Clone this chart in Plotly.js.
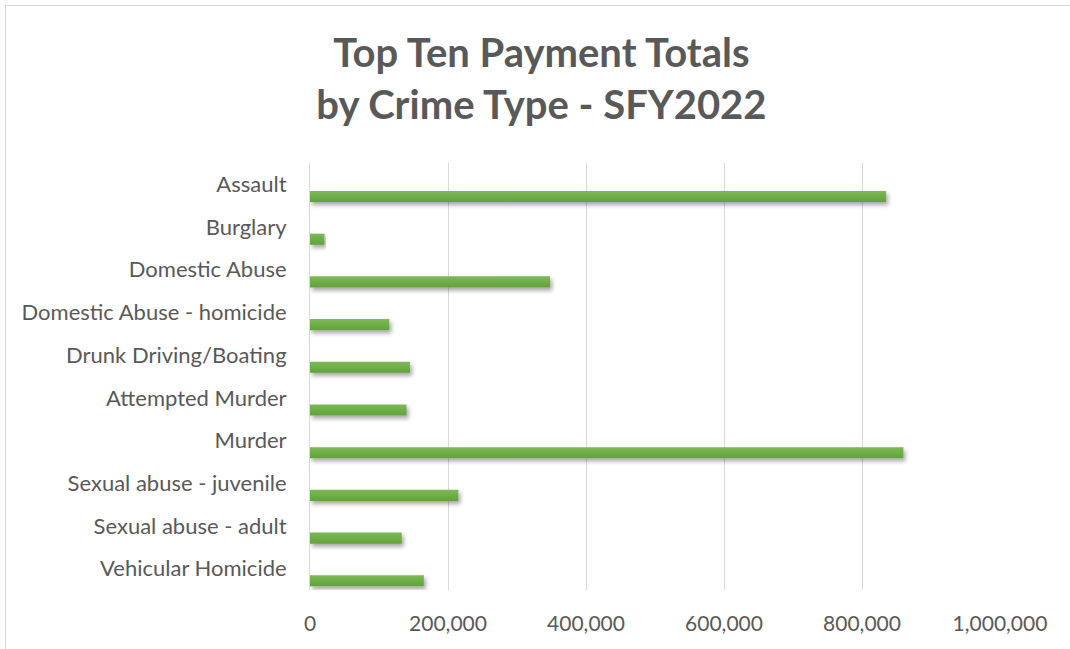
<!DOCTYPE html>
<html>
<head>
<meta charset="utf-8">
<script src="https://cdn.plot.ly/plotly-3.0.1.min.js"></script>
<style>
  html, body { margin: 0; padding: 0; background: #fff; overflow: hidden; }
  #wrap { position: relative; width: 1070px; height: 649px; overflow: hidden; }
  #chart { width: 1070px; height: 649px; }
  #frame { position: absolute; left: 5px; top: 5px; width: 1100px; height: 700px; border: 1px solid #d9d9d9; pointer-events: none; box-sizing: border-box; }
</style>
</head>
<body>
<div id="wrap">
  <div id="chart"></div>
  <div id="frame"></div>
</div>
<script>
const chartTitle = "Top Ten Payment Totals<br>by Crime Type - SFY2022";
const categories = [
  "Assault",
  "Burglary",
  "Domestic Abuse",
  "Domestic Abuse - homicide",
  "Drunk Driving/Boating",
  "Attempted Murder",
  "Murder",
  "Sexual abuse - juvenile",
  "Sexual abuse - adult",
  "Vehicular Homicide"
];
const paymentTotals = [835000, 21000, 348000, 115000, 145000, 140000, 860000, 215000, 133000, 165000];
const xTickValues = [0, 200000, 400000, 600000, 800000, 1000000];

const fontFam = "Lato, 'Open Sans', sans-serif";
const textColor = "#595959";

const trace = {
  type: "bar",
  orientation: "h",
  y: categories,
  x: paymentTotals,
  width: 0.26,
  offset: 0.155,
  marker: {
    color: "#70AD47",
    line: { width: 0 }
  },
  hoverinfo: "y+x"
};

const layout = {
  width: 1070,
  height: 649,
  margin: { l: 310, r: 70, t: 163, b: 59, pad: 0 },
  paper_bgcolor: "#ffffff",
  plot_bgcolor: "#ffffff",
  showlegend: false,
  title: {
    text: chartTitle,
    font: { family: fontFam, size: 40, color: textColor, weight: "bold" },
    x: 0.506,
    xanchor: "center",
    xref: "container",
    y: 0.896,
    yanchor: "middle",
    yref: "container"
  },
  xaxis: {
    range: [0, 1000000],
    tickvals: xTickValues,
    tickformat: ",d",
    showgrid: true,
    gridcolor: "#d9d9d9",
    gridwidth: 1,
    zeroline: false,
    showline: false,
    ticks: "",
    ticklabelstandoff: 19,
    tickfont: { family: fontFam, size: 21, color: textColor },
    fixedrange: true
  },
  yaxis: {
    type: "category",
    autorange: "reversed",
    showgrid: false,
    zeroline: false,
    showline: true,
    linecolor: "#d9d9d9",
    linewidth: 1,
    ticks: "",
    ticklabelstandoff: 18,
    tickfont: { family: fontFam, size: 22, color: textColor },
    fixedrange: true
  }
};

Plotly.newPlot("chart", [trace], layout, { displayModeBar: false, staticPlot: true }).then(function (gd) {
  // soft drop shadow on bars, like the original's shape effect
  const svg = gd.querySelector("svg.main-svg");
  const ns = "http://www.w3.org/2000/svg";
  let defs = svg.querySelector("defs");
  if (!defs) { defs = document.createElementNS(ns, "defs"); svg.insertBefore(defs, svg.firstChild); }
  const filter = document.createElementNS(ns, "filter");
  filter.setAttribute("id", "barShadow");
  filter.setAttribute("x", "-5%"); filter.setAttribute("y", "-50%");
  filter.setAttribute("width", "115%"); filter.setAttribute("height", "250%");
  filter.innerHTML = '<feDropShadow dx="2" dy="3" stdDeviation="2" flood-color="#000" flood-opacity="0.35"/>';
  defs.appendChild(filter);
  const grad = document.createElementNS(ns, "linearGradient");
  grad.setAttribute("id", "barGrad");
  grad.setAttribute("x1", "0"); grad.setAttribute("y1", "0");
  grad.setAttribute("x2", "0"); grad.setAttribute("y2", "1");
  grad.innerHTML = '<stop offset="0" stop-color="#7BB956"/><stop offset="1" stop-color="#62A23A"/>';
  defs.appendChild(grad);
  gd.querySelectorAll(".barlayer .point path").forEach(function (p) {
    p.setAttribute("filter", "url(#barShadow)");
    p.style.fill = "url(#barGrad)";
  });
});
</script>
</body>
</html>
